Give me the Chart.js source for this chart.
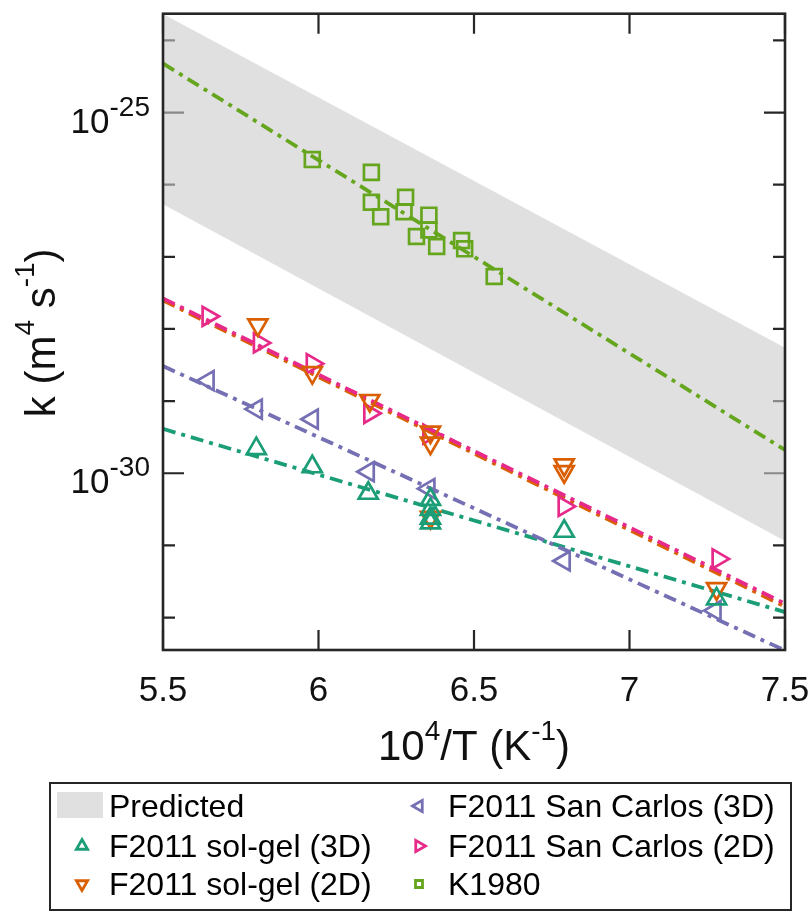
<!DOCTYPE html>
<html lang="en">
<head>
    <meta charset="UTF-8">
    <title>k vs 10^4/T</title>
    <script src="https://cdn.jsdelivr.net/npm/chart.js"></script>
    <style>
        body {
            margin: 0;
            padding: 0;
            background: #ffffff;
        }

        .chart-box {
            width: 811px;
            height: 912px;
            position: relative;
        }
    </style>
</head>
<body>
    <div class="chart-box">
        <canvas id="kChart"></canvas>
    </div>

    <script>
        // ---- datos ----
        const xTicks = [5.5, 6, 6.5, 7, 7.5];
        const xTickLabels = ['5.5', '6', '6.5', '7', '7.5'];
        const yDecades = [-32, -31, -30, -29, -28, -27, -26, -25, -24];
        const yLabelled = [-25, -30];

        const fitX = [5.5, 7.5];

        // banda "Predicted"
        const bandUpper = [2.33e-24, 5.47e-29];
        const bandLower = [5.36e-27, 1.15e-31];

        // rectas de ajuste (valor en x = 5.5 y x = 7.5)
        const fitK1980 = [4.79e-25, 2.10e-30];
        const fitSolGel3D = [4.12e-30, 1.19e-32];
        const fitSolGel2D = [2.49e-28, 1.42e-32];
        const fitSanCarlos3D = [3.06e-29, 3.5e-33];
        const fitSanCarlos2D = [2.65e-28, 1.56e-32];

        // puntos medidos
        const k1980X = [5.98, 6.17, 6.17, 6.20, 6.28, 6.275, 6.355, 6.355, 6.315, 6.38, 6.46, 6.47, 6.565];
        const k1980Y = [2.23e-26, 1.48e-26, 5.71e-27, 3.59e-27, 6.70e-27, 4.21e-27, 3.78e-27, 2.36e-27, 1.91e-27, 1.39e-27, 1.68e-27, 1.29e-27, 5.33e-28];

        const solGel3DX = [5.80, 5.98, 6.16, 6.36, 6.36, 6.36, 6.36, 6.79, 7.28];
        const solGel3DY = [2.19e-30, 1.23e-30, 5.28e-31, 4.33e-31, 3.15e-31, 2.39e-31, 2.05e-31, 1.57e-31, 1.81e-32];

        const solGel2DX = [5.805, 5.98, 6.165, 6.36, 6.36, 6.36, 6.79, 6.79, 7.28];
        const solGel2DY = [1.14e-28, 2.48e-29, 1.02e-29, 3.72e-30, 2.62e-30, 2.44e-31, 1.31e-30, 1.05e-30, 2.51e-32];

        const sanCarlos3DX = [5.645, 5.80, 5.98, 6.16, 6.355, 6.79, 7.275];
        const sanCarlos3DY = [1.92e-29, 7.76e-30, 5.61e-30, 1.05e-30, 6.12e-31, 6.08e-32, 1.25e-32];

        const sanCarlos2DX = [5.645, 5.81, 5.98, 6.165, 6.355, 6.79, 7.285];
        const sanCarlos2DY = [1.50e-28, 6.40e-29, 3.30e-29, 6.78e-30, 3.49e-30, 3.47e-31, 6.49e-32];

        const colors = {
            solGel3D: '#1b9e77',
            solGel2D: '#d95f02',
            sanCarlos3D: '#7570b3',
            sanCarlos2D: '#e7298a',
            k1980: '#66a61e',
            band: 'rgba(203, 203, 203, 0.6)',
            bandLegend: '#e0e0e0',
            axis: '#262626'
        };

        const FONT = '"Liberation Sans", Arial, Helvetica, sans-serif';

        function pairs(xs, ys) {
            return xs.map((x, i) => ({ x: x, y: ys[i] }));
        }

        function fitLine(label, values, color) {
            return {
                label: label,
                data: pairs(fitX, values),
                showLine: true,
                borderColor: color,
                borderWidth: 3.8,
                borderDash: [13, 6, 4, 6],
                pointRadius: 0,
                fill: false,
                order: 5
            };
        }

        function markers(label, xs, ys, color, style, rotation, radius) {
            return {
                label: label,
                data: pairs(xs, ys),
                showLine: false,
                pointStyle: style,
                rotation: rotation,
                pointRadius: radius,
                borderColor: color,
                pointBorderColor: color,
                backgroundColor: 'rgba(0,0,0,0)',
                pointBackgroundColor: 'rgba(0,0,0,0)',
                pointBorderWidth: 2.7,
                order: 1
            };
        }

        // texto con superindices: segs = [[texto, esSup], ...]
        function richWidth(ctx, segs, base, sup) {
            let w = 0;
            segs.forEach(s => {
                ctx.font = (s[1] ? sup : base) + 'px ' + FONT;
                w += ctx.measureText(s[0]).width;
            });
            return w;
        }

        function drawRich(ctx, segs, x, y, align, base, sup, raise) {
            const w = richWidth(ctx, segs, base, sup);
            let cx = align === 'right' ? x - w : (align === 'center' ? x - w / 2 : x);
            ctx.textAlign = 'left';
            ctx.textBaseline = 'alphabetic';
            segs.forEach(s => {
                ctx.font = (s[1] ? sup : base) + 'px ' + FONT;
                ctx.fillText(s[0], cx, s[1] ? y - raise : y);
                cx += ctx.measureText(s[0]).width;
            });
        }

        function legendMarker(ctx, type, x, y, color) {
            ctx.save();
            ctx.strokeStyle = color;
            ctx.lineWidth = 2.8;
            ctx.beginPath();
            const r = 6.5;
            const tri = (a) => {
                for (let i = 0; i < 3; i++) {
                    const ang = a + i * 2 * Math.PI / 3;
                    const px = x + Math.sin(ang) * r;
                    const py = y - Math.cos(ang) * r;
                    if (i === 0) ctx.moveTo(px, py); else ctx.lineTo(px, py);
                }
                ctx.closePath();
            };
            if (type === 'up') tri(0);
            if (type === 'down') tri(Math.PI);
            if (type === 'left') tri(-Math.PI / 2);
            if (type === 'right') tri(Math.PI / 2);
            if (type === 'square') ctx.rect(x - 3.5, y - 3.5, 7, 7);
            ctx.stroke();
            ctx.restore();
        }

        const legendItems = [
            { text: 'Predicted', type: 'patch', color: colors.bandLegend, col: 0, row: 0 },
            { text: 'F2011 sol-gel (3D)', type: 'up', color: colors.solGel3D, col: 0, row: 1 },
            { text: 'F2011 sol-gel (2D)', type: 'down', color: colors.solGel2D, col: 0, row: 2 },
            { text: 'F2011 San Carlos (3D)', type: 'left', color: colors.sanCarlos3D, col: 1, row: 0 },
            { text: 'F2011 San Carlos (2D)', type: 'right', color: colors.sanCarlos2D, col: 1, row: 1 },
            { text: 'K1980', type: 'square', color: colors.k1980, col: 1, row: 2 }
        ];

        const framePlugin = {
            id: 'matlabFrame',
            beforeDatasetsDraw(chart) {
                const { ctx, chartArea: a, scales } = chart;
                ctx.save();
                ctx.strokeStyle = colors.axis;
                ctx.lineWidth = 2.2;
                ctx.beginPath();
                xTicks.forEach(v => {
                    const px = scales.x.getPixelForValue(v);
                    ctx.moveTo(px, a.bottom);
                    ctx.lineTo(px, a.bottom - 20);
                    ctx.moveTo(px, a.top);
                    ctx.lineTo(px, a.top + 20);
                });
                yDecades.forEach(d => {
                    const py = scales.y.getPixelForValue(Math.pow(10, d));
                    const len = yLabelled.includes(d) ? 21 : 12;
                    ctx.moveTo(a.left, py);
                    ctx.lineTo(a.left + len, py);
                    ctx.moveTo(a.right, py);
                    ctx.lineTo(a.right - len, py);
                });
                ctx.stroke();
                ctx.restore();
            },
            afterDatasetsDraw(chart) {
                const { ctx, chartArea: a, scales } = chart;
                ctx.save();

                // marco
                ctx.strokeStyle = colors.axis;
                ctx.lineWidth = 2.6;
                ctx.strokeRect(a.left, a.top, a.right - a.left, a.bottom - a.top);

                ctx.fillStyle = '#111111';

                // etiquetas eje x
                ctx.font = '35px ' + FONT;
                ctx.textAlign = 'center';
                ctx.textBaseline = 'alphabetic';
                xTicks.forEach((v, i) => {
                    ctx.fillText(xTickLabels[i], scales.x.getPixelForValue(v), a.bottom + 51);
                });

                // etiquetas eje y
                yLabelled.forEach(d => {
                    const py = scales.y.getPixelForValue(Math.pow(10, d));
                    drawRich(ctx, [['10', false], [String(d), true]], a.left - 13, py + 20, 'right', 35, 28, 17);
                });

                // titulo eje x
                const cx = (a.left + a.right) / 2;
                drawRich(ctx, [['10', false], ['4', true], ['/T (K', false], ['-1', true], [')', false]],
                    cx, a.bottom + 110, 'center', 42, 28, 20);

                // titulo eje y
                ctx.save();
                ctx.translate(55, (a.top + a.bottom) / 2 + 1);
                ctx.rotate(-Math.PI / 2);
                drawRich(ctx, [['k (m', false], ['4', true], [' s', false], ['-1', true], [')', false]],
                    0, 0, 'center', 42, 28, 21);
                ctx.restore();

                // leyenda
                const box = { x: 50, y: 783, w: 741, h: 127 };
                ctx.fillStyle = '#ffffff';
                ctx.fillRect(box.x, box.y, box.w, box.h);
                ctx.strokeStyle = colors.axis;
                ctx.lineWidth = 2;
                ctx.strokeRect(box.x, box.y, box.w, box.h);

                const markerX = [82, 419];
                const textX = [109, 448];
                const baselines = [817, 857, 895];
                legendItems.forEach(it => {
                    const by = baselines[it.row];
                    if (it.type === 'patch') {
                        ctx.fillStyle = it.color;
                        ctx.fillRect(57, by - 25, 46, 26);
                    } else {
                        legendMarker(ctx, it.type, markerX[it.col], by - 11, it.color);
                    }
                    ctx.fillStyle = '#000000';
                    ctx.font = '32px ' + FONT;
                    ctx.textAlign = 'left';
                    ctx.fillText(it.text, textX[it.col], by);
                });

                ctx.restore();
            }
        };

        const ctx = document.getElementById('kChart').getContext('2d');

        new Chart(ctx, {
            type: 'scatter',
            data: {
                datasets: [
                    markers('F2011 sol-gel (3D)', solGel3DX, solGel3DY, colors.solGel3D, 'triangle', 0, 11),
                    markers('F2011 sol-gel (2D)', solGel2DX, solGel2DY, colors.solGel2D, 'triangle', 180, 11),
                    markers('F2011 San Carlos (3D)', sanCarlos3DX, sanCarlos3DY, colors.sanCarlos3D, 'triangle', 270, 11),
                    markers('F2011 San Carlos (2D)', sanCarlos2DX, sanCarlos2DY, colors.sanCarlos2D, 'triangle', 90, 11),
                    markers('K1980', k1980X, k1980Y, colors.k1980, 'rect', 0, 10.5),
                    fitLine('K1980 fit', fitK1980, colors.k1980),
                    fitLine('San Carlos (2D) fit', fitSanCarlos2D, colors.sanCarlos2D),
                    fitLine('sol-gel (2D) fit', fitSolGel2D, colors.solGel2D),
                    fitLine('San Carlos (3D) fit', fitSanCarlos3D, colors.sanCarlos3D),
                    fitLine('sol-gel (3D) fit', fitSolGel3D, colors.solGel3D),
                    {
                        label: 'Predicted',
                        data: pairs(fitX, bandUpper),
                        showLine: true,
                        borderWidth: 0,
                        borderColor: 'rgba(0,0,0,0)',
                        pointRadius: 0,
                        backgroundColor: colors.band,
                        fill: '+1',
                        order: 10
                    },
                    {
                        label: 'Predicted lower',
                        data: pairs(fitX, bandLower),
                        showLine: true,
                        borderWidth: 0,
                        borderColor: 'rgba(0,0,0,0)',
                        pointRadius: 0,
                        fill: false,
                        order: 11
                    }
                ]
            },
            options: {
                responsive: true,
                maintainAspectRatio: false,
                animation: false,
                events: [],
                layout: {
                    padding: { left: 163, right: 26, top: 8, bottom: 262 }
                },
                plugins: {
                    legend: { display: false },
                    tooltip: { enabled: false }
                },
                scales: {
                    x: {
                        type: 'linear',
                        min: 5.5,
                        max: 7.5,
                        display: false
                    },
                    y: {
                        type: 'logarithmic',
                        min: Math.pow(10, -32.45),
                        max: Math.pow(10, -23.63),
                        display: false
                    }
                }
            },
            plugins: [framePlugin]
        });
    </script>
</body>
</html>
